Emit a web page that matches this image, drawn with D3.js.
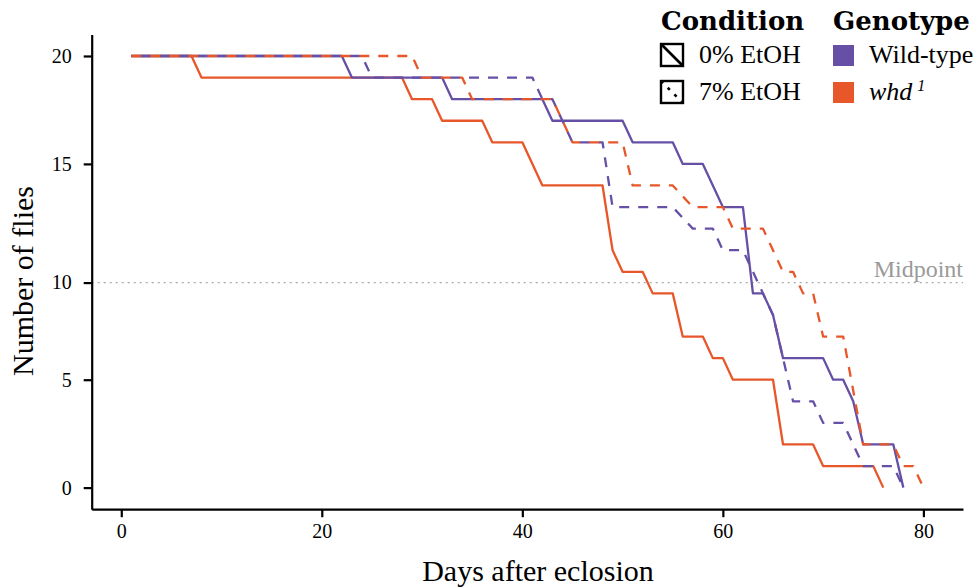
<!DOCTYPE html>
<html>
<head>
<meta charset="utf-8">
<script src="https://cdn.jsdelivr.net/npm/d3@7"></script>
<style>
  html, body { margin: 0; padding: 0; background: #ffffff; }
  svg { display: block; }
</style>
</head>
<body>
<svg id="chart" width="979" height="588"></svg>
<script>
// Survival counts per observation day (20 flies per group)
const wtControlDays   = [1, 22, 23, 32, 33, 42, 43, 50, 51, 55, 56, 58, 60, 62, 63, 64, 65, 66, 70, 71, 72, 73, 74, 77, 78];
const wtControlFlies  = [20, 20, 19, 19, 18, 18, 17, 17, 16, 16, 15, 15, 13, 13, 9, 9, 8, 6, 6, 5, 5, 4, 2, 2, 0];

const whdControlDays  = [1, 7, 8, 28, 29, 31, 32, 36, 37, 40, 42, 48, 49, 50, 52, 53, 55, 56, 58, 59, 60, 61, 65, 66, 69, 70, 75, 76];
const whdControlFlies = [20, 20, 19, 19, 18, 18, 17, 17, 16, 16, 14, 14, 11, 10, 10, 9, 9, 7, 7, 6, 6, 5, 5, 2, 2, 1, 1, 0];

const wtEtohDays      = [1, 24, 25, 41, 42, 43, 45, 48, 49, 55, 57, 59, 60, 62, 63, 64, 65, 66, 67, 69, 70, 72, 74, 77, 78];
const wtEtohFlies     = [20, 20, 19, 19, 18, 18, 16, 16, 13, 13, 12, 12, 11, 11, 10, 9, 8, 6, 4, 4, 3, 3, 1, 1, 0];

const whdEtohDays     = [1, 29, 30, 34, 35, 43, 45, 50, 51, 55, 57, 60, 61, 64, 65, 66, 67, 68, 69, 70, 72, 74, 77, 78, 79, 80];
const whdEtohFlies    = [20, 20, 19, 19, 18, 18, 16, 16, 14, 14, 13, 13, 12, 12, 11, 10, 10, 9, 9, 7, 7, 2, 2, 1, 1, 0];

// Half of the 19 flies still at risk after the first death marks the midpoint
const midpointValue = 9.5;

const xTicks = [0, 20, 40, 60, 80];
const yTicks = [0, 5, midpointValue, 15, 20];
const yTickLabels = ["0", "5", "10", "15", "20"];

const genotypes  = ["Wild-type", "whd"];
const conditions = ["0% EtOH", "7% EtOH"];
const genotypeColors = { "Wild-type": "#6650a6", "whd": "#e8572a" };

const series = [
  { genotype: "whd",       condition: "0% EtOH", days: whdControlDays, flies: whdControlFlies },
  { genotype: "Wild-type", condition: "0% EtOH", days: wtControlDays,  flies: wtControlFlies },
  { genotype: "Wild-type", condition: "7% EtOH", days: wtEtohDays,     flies: wtEtohFlies },
  { genotype: "whd",       condition: "7% EtOH", days: whdEtohDays,    flies: whdEtohFlies }
];

const svg = d3.select("#chart");
const FONT = '"Liberation Serif", "DejaVu Serif", serif';
const BOLD_FONT = '"DejaVu Serif", "Liberation Serif", serif';

const panel = { left: 91.7, right: 963, top: 34.4, bottom: 509.2 };

const x = d3.scaleLinear().domain([-2.95, 83.95]).range([panel.left, panel.right]);
const y = d3.scaleLinear().domain([-1, 21]).range([panel.bottom, panel.top]);

// Midpoint reference line
svg.append("line")
  .attr("x1", panel.left).attr("x2", panel.right)
  .attr("y1", y(midpointValue)).attr("y2", y(midpointValue))
  .attr("stroke", "#a8a8a8").attr("stroke-width", 1.3)
  .attr("stroke-dasharray", "2,4");

svg.append("text")
  .attr("x", panel.right).attr("y", y(midpointValue) - 6)
  .attr("text-anchor", "end")
  .attr("font-family", FONT).attr("font-size", 24)
  .attr("fill", "#9a9a9a")
  .text("Midpoint");

// Survival lines
const line = d3.line().x(d => x(d[0])).y(d => y(d[1]));

series.forEach(s => {
  const pts = s.days.map((d, i) => [d, s.flies[i]]);
  const dashed = s.condition === "7% EtOH";
  svg.append("path")
    .datum(pts)
    .attr("d", line)
    .attr("fill", "none")
    .attr("stroke", genotypeColors[s.genotype])
    .attr("stroke-width", 2.3)
    .attr("stroke-linejoin", "round")
    .attr("stroke-dasharray", dashed ? "10,9" : null)
    .attr("stroke-dashoffset", dashed && s.genotype === "Wild-type" ? 9.5 : 0);
});

// Axes
const yAxis = svg.append("g")
  .attr("transform", `translate(${panel.left},0)`)
  .call(d3.axisLeft(y).tickValues(yTicks)
    .tickFormat((d, i) => yTickLabels[i])
    .tickSize(8).tickSizeOuter(0).tickPadding(12));
const xAxis = svg.append("g")
  .attr("transform", `translate(0,${panel.bottom})`)
  .call(d3.axisBottom(x).tickValues(xTicks).tickSize(8).tickSizeOuter(0).tickPadding(7));

[xAxis, yAxis].forEach(g => {
  g.select(".domain").attr("stroke", "#000").attr("stroke-width", 2.2);
  g.selectAll(".tick line").attr("stroke", "#000").attr("stroke-width", 2.2);
  g.selectAll(".tick text")
    .attr("font-family", FONT).attr("font-size", 20).attr("fill", "#000");
});

// Axis titles
svg.append("text")
  .attr("x", 538).attr("y", 581)
  .attr("text-anchor", "middle")
  .attr("font-family", FONT).attr("font-size", 30)
  .text("Days after eclosion");

svg.append("text")
  .attr("transform", `translate(33,${281}) rotate(-90)`)
  .attr("text-anchor", "middle")
  .attr("font-family", FONT).attr("font-size", 30)
  .text("Number of flies");

// Legend: condition
const condLegend = svg.append("g");
condLegend.append("text")
  .attr("x", 661).attr("y", 30)
  .attr("font-family", BOLD_FONT).attr("font-weight", "bold").attr("font-size", 26)
  .text("Condition");

conditions.forEach((c, i) => {
  const ky = 44 + i * 37;
  const g = condLegend.append("g").attr("transform", `translate(661,${ky})`);
  g.append("rect").attr("x", 0).attr("y", 0).attr("width", 22).attr("height", 22)
    .attr("fill", "#fff").attr("stroke", "#000").attr("stroke-width", 2.4);
  g.append("line").attr("x1", 0).attr("y1", 0).attr("x2", 22).attr("y2", 22)
    .attr("stroke", "#000").attr("stroke-width", 2.6)
    .attr("stroke-dasharray", i === 1 ? "3,6.5" : null);
  condLegend.append("text")
    .attr("x", 699).attr("y", ky + 19)
    .attr("font-family", FONT).attr("font-size", 26)
    .text(c);
});

// Legend: genotype
const genoLegend = svg.append("g");
genoLegend.append("text")
  .attr("x", 833).attr("y", 30)
  .attr("font-family", BOLD_FONT).attr("font-weight", "bold").attr("font-size", 26)
  .text("Genotype");

genotypes.forEach((gname, i) => {
  const ky = 45 + i * 37;
  genoLegend.append("rect")
    .attr("x", 833).attr("y", ky).attr("width", 21).attr("height", 21)
    .attr("fill", genotypeColors[gname]);
  const t = genoLegend.append("text")
    .attr("x", 869).attr("y", ky + 18)
    .attr("font-family", FONT).attr("font-size", 26);
  if (gname === "whd") {
    t.append("tspan").attr("font-style", "italic").text("whd");
    t.append("tspan").attr("font-style", "italic").attr("font-size", 16)
      .attr("dx", 5).attr("dy", -9).text("1");
  } else {
    t.text(gname);
  }
});
</script>
</body>
</html>
